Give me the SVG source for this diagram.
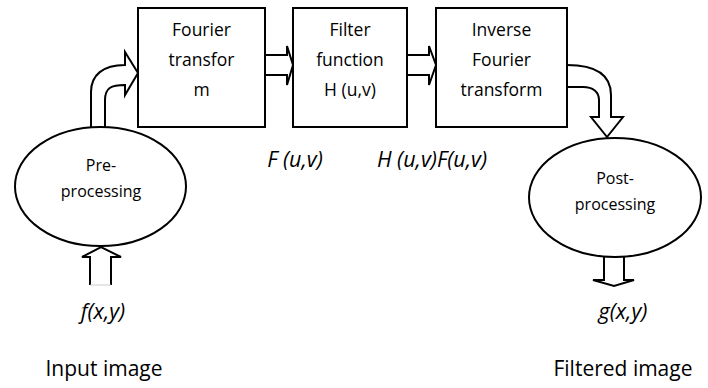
<svg xmlns="http://www.w3.org/2000/svg" width="708" height="388" viewBox="0 0 708 388">
<style>
.s{fill:#fff;stroke:#000;stroke-width:2}
.a{fill:none;stroke:#000;stroke-width:2;stroke-linejoin:miter}
text{font-family:"Open Sans","DejaVu Sans",sans-serif;fill:#000;text-anchor:middle}
.b{font-size:17.5px}
.p{font-size:16px}
.i{font-size:21.5px;font-style:italic}
.l{font-size:21px}
</style>
<rect width="708" height="388" fill="#fff"/>
<g id="connectors">
<path class="a" d="M265,55 L287,55 L287,46 L293,65 L287,85 L287,75 L265,75"/>
<path class="a" d="M407,55 L429,55 L429,46 L436,65 L429,85 L429,75 L407,75"/>
<path class="a" d="M91,127 L91,92 C91,75 103,65 125,65 L125,52 L138,73 L125,95 L125,85 C111,85 105,88 105,100 L105,127"/>
<path class="a" d="M567,65 C596,65 611,75 611,95 L611,117 L623,117 L607,137 L591,117 L599,117 L599,100 C599,92 593,87 583,87 L567,87"/>
<path class="a" d="M90,285 L90,257 L82,257 L101,247 L121,257 L111,257 L111,285"/>
<line x1="90" y1="285" x2="111" y2="285" stroke="#ccc" stroke-width="1"/>
<path class="a" d="M604,257 L604,280 L593,280 L614,286 L634,280 L624,280 L624,257"/>
</g>
<g id="fourier">
<rect class="s" x="138" y="8" width="127" height="119"/>
<text class="b" x="201.5" y="36">Fourier</text>
<text class="b" x="201.5" y="66">transfor</text>
<text class="b" x="201.5" y="96">m</text>
</g>
<g id="filter">
<rect class="s" x="293" y="8" width="114" height="119"/>
<text class="b" x="350" y="36">Filter</text>
<text class="b" x="350" y="66">function</text>
<text class="b" x="350" y="96">H (u,v)</text>
</g>
<g id="inverse">
<rect class="s" x="436" y="8" width="131" height="119"/>
<text class="b" x="501.5" y="36">Inverse</text>
<text class="b" x="501.5" y="66">Fourier</text>
<text class="b" x="501.5" y="96">transform</text>
</g>
<g id="pre">
<ellipse class="s" cx="100.5" cy="186.5" rx="85.5" ry="59.5"/>
<text class="p" x="101" y="171">Pre-</text>
<text class="p" x="101" y="197">processing</text>
</g>
<g id="post">
<ellipse class="s" cx="615" cy="197.5" rx="86" ry="59.5"/>
<text class="p" x="615" y="184">Post-</text>
<text class="p" x="615" y="210">processing</text>
</g>
<g id="labels">
<text class="i" x="295" y="167">F (u,v)</text>
<text class="i" x="432" y="167">H (u,v)F(u,v)</text>
<text class="i" x="103" y="319">f(x,y)</text>
<text class="i" x="623" y="319">g(x,y)</text>
<text class="l" x="104" y="376">Input image</text>
<text class="l" x="623" y="376">Filtered image</text>
</g>
</svg>
